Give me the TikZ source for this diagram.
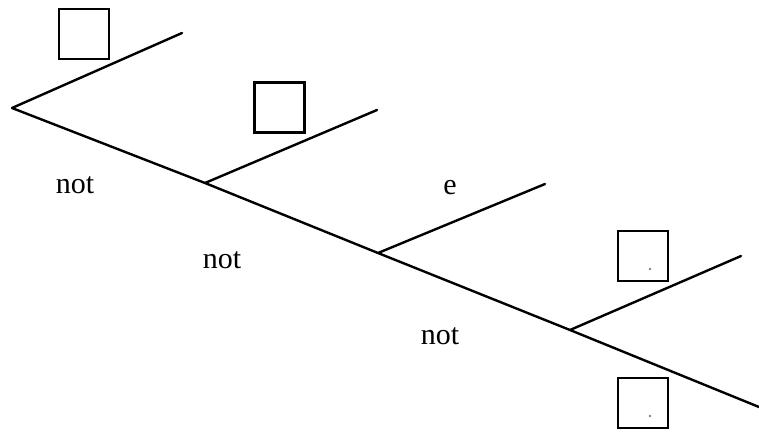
\documentclass[tikz,border=0pt]{standalone}
\usepackage{fontspec}
\setmainfont{Liberation Serif}
\begin{document}
\begin{tikzpicture}[x=1pt,y=-1pt,
  stroke/.style={line width=2.4pt, line cap=round, line join=round},
  slot/.style={draw, line width=2.4pt, minimum width=50pt, minimum height=50pt, inner sep=0pt},
  word/.style={font=\fontsize{30}{33}\selectfont, inner sep=0pt}]
\useasboundingbox (0,0) rectangle (759,431);
\coordinate (v0) at (12,108);
\coordinate (b1) at (182,33);
\coordinate (j1) at (205,183);
\coordinate (b2) at (377,110);
\coordinate (j2) at (378,253);
\coordinate (b3) at (545,184);
\coordinate (j3) at (570,330);
\coordinate (b4) at (741,256);
\coordinate (vend) at (759,407);
\draw[stroke] (b1) -- (v0) -- (j1) -- (j2) -- (j3) -- (vend);
\draw[stroke] (j1) -- (b2);
\draw[stroke] (j2) -- (b3);
\draw[stroke] (j3) -- (b4);
\node[slot] (s1) at (84,34) {};
\node[slot] (s2) at (279.5,107.5) {};
\node[slot] (s3) at (643,256) {};
\node[slot] (s4) at (643,403) {};
\fill[gray] (650,269) circle (1.3pt);
\fill[gray] (650,416) circle (1.3pt);
\node[word] (n1) at (75,185) {not};
\node[word] (n2) at (222,260) {not};
\node[word] (e1) at (450,188) {e};
\node[word] (n3) at (440,336) {not};
\end{tikzpicture}
\end{document}
